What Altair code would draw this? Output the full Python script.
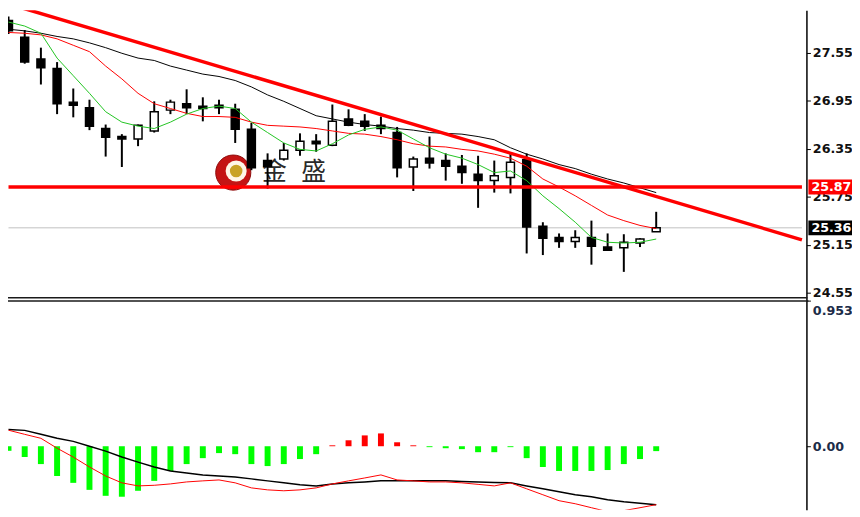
import altair as alt
import pandas as pd

# ---------------- data ----------------
idx = list(range(0, 41))
opens = [27.95, 27.74, 27.47, 27.35, 26.93, 26.86, 26.60, 26.50, 26.47, 26.57, 26.83,
         26.91, 26.88, 26.89, 26.84, 26.59, 26.20, 26.22, 26.33, 26.44, 26.39,
         26.72, 26.69, 26.64, 26.55, 26.12, 26.23, 26.20, 26.13, 26.03, 25.95,
         25.99, 26.21, 25.38, 25.24, 25.19, 25.24, 25.12, 25.11, 25.17, 25.31]
highs = [28.00, 27.83, 27.61, 27.43, 27.10, 26.96, 26.65, 26.53, 26.65, 26.94, 26.96,
         27.09, 26.99, 26.96, 26.91, 26.67, 26.29, 26.42, 26.54, 26.53, 26.90,
         26.84, 26.78, 26.75, 26.62, 26.25, 26.50, 26.29, 26.27, 26.26, 26.20,
         26.28, 26.29, 25.43, 25.29, 25.33, 25.45, 25.29, 25.28, 25.23, 25.56]
lows = [27.78, 27.41, 27.15, 26.78, 26.74, 26.58, 26.25, 26.12, 26.38, 26.55, 26.78,
        26.78, 26.69, 26.78, 26.42, 26.08, 25.85, 26.20, 26.26, 26.31, 26.38,
        26.63, 26.57, 26.53, 25.99, 25.82, 26.10, 25.95, 25.91, 25.61, 25.80,
        25.79, 25.04, 25.02, 25.11, 25.11, 24.90, 25.08, 24.81, 25.12, 25.31]
closes = [27.82, 27.43, 27.36, 26.91, 26.89, 26.63, 26.49, 26.47, 26.64, 26.81, 26.93,
          26.86, 26.85, 26.86, 26.59, 26.11, 26.13, 26.33, 26.44, 26.41, 26.69,
          26.64, 26.63, 26.60, 26.11, 26.22, 26.17, 26.13, 26.05, 25.95, 26.01,
          26.18, 25.37, 25.23, 25.19, 25.24, 25.13, 25.08, 25.18, 25.22, 25.36]

ma_green = [27.93, 27.88, 27.79, 27.48, 27.26, 27.04, 26.81, 26.68, 26.63, 26.60, 26.68,
            26.78, 26.85, 26.88, 26.85, 26.68, 26.55, 26.42, 26.34, 26.32, 26.41,
            26.52, 26.59, 26.62, 26.58, 26.47, 26.36, 26.28, 26.23, 26.15, 26.05,
            26.07, 25.95, 25.76, 25.60, 25.43, 25.24, 25.18, 25.17, 25.18, 25.22]
ma_red = [27.80, 27.79, 27.77, 27.72, 27.64, 27.56, 27.38, 27.22, 27.04, 26.91, 26.85,
          26.79, 26.75, 26.75, 26.74, 26.68, 26.64, 26.63, 26.62, 26.60, 26.57,
          26.54, 26.53, 26.50, 26.46, 26.41, 26.38, 26.37, 26.34, 26.32, 26.28,
          26.23, 26.13, 25.97, 25.87, 25.76, 25.64, 25.52, 25.45, 25.39, 25.35]
ma_black = [27.84, 27.82, 27.79, 27.75, 27.72, 27.67, 27.61, 27.54, 27.48, 27.45, 27.38,
            27.33, 27.28, 27.25, 27.20, 27.12, 27.02, 26.94, 26.85, 26.76, 26.72,
            26.68, 26.65, 26.63, 26.60, 26.58, 26.55, 26.54, 26.53, 26.50, 26.46,
            26.36, 26.28, 26.22, 26.15, 26.10, 26.03, 25.97, 25.92, 25.86, 25.80]

macd_hist = [-0.030, -0.071, -0.117, -0.195, -0.240, -0.286, -0.325, -0.331, -0.292, -0.227, -0.162,
             -0.117, -0.078, -0.045, -0.052, -0.117, -0.130, -0.117, -0.084, -0.052, 0.006,
             0.039, 0.071, 0.084, 0.026, 0.006, -0.006, -0.013, -0.019, -0.039, -0.039,
             -0.006, -0.078, -0.136, -0.162, -0.162, -0.162, -0.156, -0.117, -0.084, -0.032]
macd_red = [0.105, 0.078, 0.052, -0.013, -0.071, -0.136, -0.195, -0.240, -0.260, -0.256, -0.247,
            -0.234, -0.227, -0.221, -0.240, -0.273, -0.286, -0.292, -0.286, -0.273, -0.247,
            -0.227, -0.208, -0.188, -0.221, -0.227, -0.234, -0.234, -0.240, -0.250, -0.260,
            -0.240, -0.279, -0.318, -0.357, -0.377, -0.403, -0.429, -0.422, -0.403, -0.383]
macd_black = [0.110, 0.104, 0.078, 0.052, 0.032, 0.000, -0.032, -0.071, -0.104, -0.136, -0.162,
              -0.175, -0.188, -0.195, -0.201, -0.214, -0.227, -0.240, -0.253, -0.260, -0.247,
              -0.240, -0.234, -0.227, -0.227, -0.227, -0.227, -0.227, -0.231, -0.234, -0.237,
              -0.240, -0.260, -0.279, -0.299, -0.318, -0.331, -0.351, -0.364, -0.373, -0.383]

price_ticks = [24.55, 25.15, 25.75, 26.35, 26.95, 27.55, 28.15]
macd_ticks = [0.953, 0.0]

level_price = [25.87]
level_label = ["25.87"]
bid_price = [25.36]
bid_label = ["25.36"]
trend_idx = [0.27, 49.0]
trend_price = [28.14, 25.21]
line_end_idx = [0.0, 49.0]

logo_idx = [13.88]
logo_price = [26.05]
logo_inner_idx = [14.06]
logo_inner_price = [26.07]
mark_chars = ["金", "盛"]
mark_idx = [16.42, 18.84]
mark_price = [26.06, 26.06]

# ---------------- layout / calibration ----------------
W, H = 852, 504
X0, Y0 = 0, 8                 # picture offset of plot origin
IDX_X1, IDX_STEP = 12.0, 16.54  # pixel of candle 1 and spacing
PX_PER_PRICE, PRICE_AT_293 = 80.83, 24.55
PX_PER_MACD, MACD_ZERO_Y = 154.0, 448.0
AXIS_X = 806
LABEL_SIZE = 12.8


def idx_at(px):
    return 1 + (px - IDX_X1) / IDX_STEP


def price_at(py):
    return PRICE_AT_293 + (293 - py) / PX_PER_PRICE


def macd_at(py):
    return (MACD_ZERO_Y - py) / PX_PER_MACD


xscale = alt.Scale(domain=[idx_at(X0), idx_at(X0 + W)], nice=False, zero=False)
pscale = alt.Scale(domain=[price_at(Y0 + H), price_at(Y0)], nice=False, zero=False)
mscale = alt.Scale(domain=[macd_at(Y0 + H), macd_at(Y0)], nice=False, zero=False)
AXIS_OFFSET = (AXIS_X - X0) - W

candles = pd.DataFrame({
    "idx": idx, "open": opens, "high": highs, "low": lows, "close": closes,
    "ma_g": ma_green, "ma_r": ma_red, "ma_k": ma_black,
    "hist": macd_hist, "dif": macd_red, "dea": macd_black,
})

X = alt.X("idx:Q", scale=xscale, axis=None)

price_axis = alt.Axis(
    values=price_ticks, format=".2f", orient="right", offset=AXIS_OFFSET,
    title=None, grid=False, domain=True, domainColor="#000000", domainWidth=1.5,
    ticks=True, tickSize=4, tickColor="#000000", tickWidth=1,
    labelFont="DejaVu Sans", labelFontSize=LABEL_SIZE, labelFontWeight="bold",
    labelColor="#111111", labelPadding=2, labelAlign="left", labelBaseline="middle",
    labelOverlap=False, labelFlush=False, zindex=0,
)
macd_axis = alt.Axis(
    values=macd_ticks, orient="right", offset=AXIS_OFFSET, title=None, grid=False,
    domain=False, ticks=True, tickSize=4, tickColor="#000000",
    labelExpr="datum.value == 0 ? '0.00' : '0.953'",
    labelFont="DejaVu Sans", labelFontSize=LABEL_SIZE, labelFontWeight="bold",
    labelColor="#1c2c48", labelPadding=2, labelAlign="left", labelBaseline="middle",
    labelOffset={"condition": {"test": "datum.value > 0.5", "value": 10}, "value": 0},
    labelOverlap=False, labelFlush=False, zindex=0,
)


def PY(field):
    return alt.Y(field, scale=pscale, axis=price_axis)


def MY(field):
    return alt.Y(field, scale=mscale, axis=macd_axis)


one = pd.DataFrame({"k": [0]})

# ---------------- price panel ----------------
logo_df = pd.DataFrame({"idx": logo_idx, "price": logo_price})
logo_in_df = pd.DataFrame({"idx": logo_inner_idx, "price": logo_inner_price})
logo_outer = alt.Chart(logo_df).mark_circle(size=1257, color="#C41414", opacity=1,
                                            stroke="#8E0C0C", strokeWidth=1).encode(
    x=X, y=PY("price:Q"))
logo_white = alt.Chart(logo_in_df).mark_circle(size=452, color="#FFF6E8", opacity=1).encode(
    x=X, y=PY("price:Q"))
logo_gold = alt.Chart(logo_in_df).mark_circle(size=160, color="#C9A227", opacity=1).encode(
    x=X, y=PY("price:Q"))
wm_df = pd.DataFrame({"idx": mark_idx, "price": mark_price, "t": mark_chars})
wm_text = alt.Chart(wm_df).mark_text(font="Noto Sans CJK SC", fontSize=25, color="#2a2a2a",
                                     align="center", baseline="middle").encode(
    x=X, y=PY("price:Q"), text="t:N")

bid_df = pd.DataFrame({"price": bid_price * 2, "idx": line_end_idx})
bid_line = alt.Chart(bid_df).mark_line(color="#C0C0C0", strokeWidth=1).encode(
    x=X, y=PY("price:Q"))

wicks = alt.Chart(candles).mark_rule(color="#000000", strokeWidth=2).encode(
    x=X, y=PY("low:Q"), y2="high:Q")
bodies = alt.Chart(candles).mark_bar(width=8, stroke="#000000", strokeWidth=1.5).encode(
    x=X, y=PY("open:Q"), y2="close:Q",
    fill=alt.condition("datum.close >= datum.open", alt.value("#FFFFFF"), alt.value("#000000")))

ma_k_line = alt.Chart(candles).mark_line(color="#000000", strokeWidth=1, clip=True).encode(
    x=X, y=PY("ma_k:Q"))
ma_r_line = alt.Chart(candles).mark_line(color="#FF0000", strokeWidth=1, clip=True).encode(
    x=X, y=PY("ma_r:Q"))
ma_g_line = alt.Chart(candles).mark_line(color="#22C422", strokeWidth=1, clip=True).encode(
    x=X, y=PY("ma_g:Q"))

lvl_df = pd.DataFrame({"price": level_price * 2, "idx": line_end_idx})
lvl_line = alt.Chart(lvl_df).mark_line(color="#FF0000", strokeWidth=3.5).encode(
    x=X, y=PY("price:Q"))
tr_df = pd.DataFrame({"price": trend_price, "idx": trend_idx})
tr_line = alt.Chart(tr_df).mark_line(color="#FF0000", strokeWidth=3.5, clip=True).encode(
    x=X, y=PY("price:Q"))

box_df = pd.DataFrame({"price": level_price + bid_price, "lab": level_label + bid_label,
                       "c": ["#FF0000", "#000000"]})
boxes = alt.Chart(box_df).mark_tick(thickness=15, size=52, opacity=1).encode(
    x=alt.value(834 - X0), y=PY("price:Q"),
    color=alt.Color("c:N", scale=None))
box_text = alt.Chart(box_df).mark_text(font="DejaVu Sans", fontSize=LABEL_SIZE, fontWeight="bold",
                                       color="#FFFFFF", align="left", baseline="middle").encode(
    x=alt.value(811 - X0), y=PY("price:Q"), text="lab:N")

price_panel = alt.layer(logo_outer, logo_white, logo_gold, wm_text, bid_line, wicks, bodies,
                        ma_k_line, ma_r_line, ma_g_line, lvl_line, tr_line, boxes, box_text)

# ---------------- MACD panel ----------------
hist = alt.Chart(candles).mark_bar(width=6).encode(
    x=X, y=MY("hist:Q"), y2=alt.datum(0),
    color=alt.condition("datum.hist >= 0", alt.value("#FF0000"), alt.value("#00FF00")))
dea_line = alt.Chart(candles).mark_line(color="#000000", strokeWidth=1.5, clip=True).encode(
    x=X, y=MY("dea:Q"))
dif_line = alt.Chart(candles).mark_line(color="#FF0000", strokeWidth=1, clip=True).encode(
    x=X, y=MY("dif:Q"))
sep1 = alt.Chart(one).mark_rule(color="#1a1a1a", strokeWidth=1.5).encode(
    x=alt.value(0), x2=alt.value(AXIS_X - X0 + 1), y=alt.value(298 - Y0))
sep2 = alt.Chart(one).mark_rule(color="#1a1a1a", strokeWidth=1.5).encode(
    x=alt.value(0), x2=alt.value(AXIS_X - X0 + 2), y=alt.value(301.5 - Y0))

macd_panel = alt.layer(hist, dea_line, dif_line)

chart = alt.layer(price_panel, macd_panel, sep1, sep2).resolve_scale(y="independent").properties(
    width=W, height=H, padding=0, background="#FFFFFF",
    autosize=alt.AutoSizeParams(type="none"),
).configure_view(strokeWidth=0)

chart.save("out.html", embed_options={"renderer": "svg", "actions": False})
